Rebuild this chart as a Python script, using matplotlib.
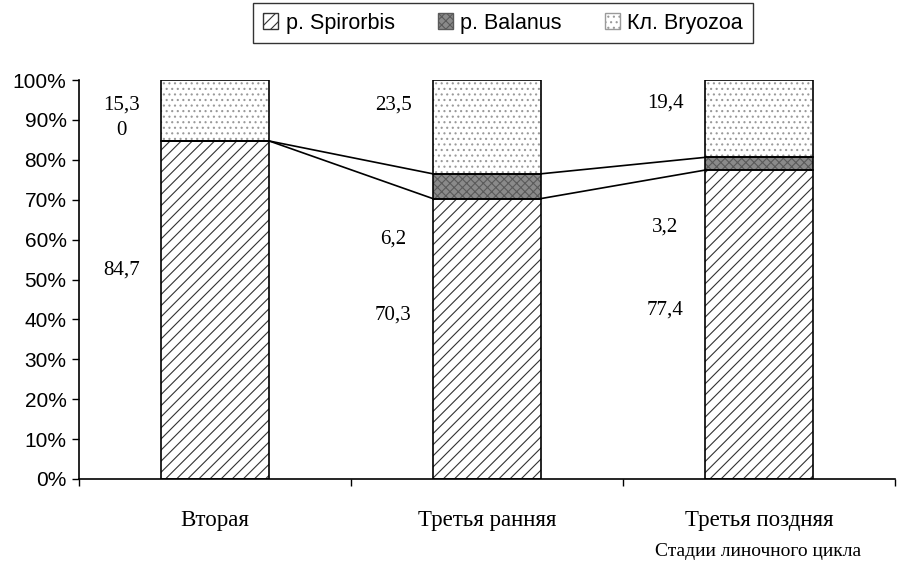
import matplotlib
matplotlib.use("Agg")
import matplotlib.pyplot as plt
import matplotlib.patches as mpatches
import numpy as np

categories = ["Вторая", "Третья ранняя", "Третья поздняя"]
series_names = ["р. Spirorbis", "р. Balanus", "Кл. Bryozoa"]
spirorbis = [84.7, 70.3, 77.4]
balanus = [0.0, 6.2, 3.2]
bryozoa = [15.3, 23.5, 19.4]
value_labels = [["84,7", "70,3", "77,4"], ["0", "6,2", "3,2"], ["15,3", "23,5", "19,4"]]
label_y = [[52.4, 41.1, 42.4], [87.3, 60.2, 63.2], [93.7, 93.7, 94.2]]
yticks = [0, 10, 20, 30, 40, 50, 60, 70, 80, 90, 100]
xlabel = "Стадии линочного цикла"

SANS = "Liberation Sans"
SERIF = "Liberation Serif"

fig = plt.figure(figsize=(8.99, 5.66), dpi=100)
ax = fig.add_axes([79/899, 1-479/566, (895-79)/899, (479-80)/566])

x = np.arange(len(categories))
w = 0.4
series = [spirorbis, balanus, bryozoa]
styles = [
    dict(face="white", hatch="///", hc="#333333"),
    dict(face="#8a8a8a", hatch="xxxx", hc="#5a5a5a"),
    dict(face="white", hatch="...", hc="#9a9a9a"),
]
plt.rcParams["hatch.linewidth"] = 0.8
bottoms = np.zeros(len(categories))
for vals, st in zip(series, styles):
    vals = np.array(vals)
    ax.bar(x, vals, w, bottom=bottoms, color=st["face"], hatch=st["hatch"],
           edgecolor=st["hc"], linewidth=0, zorder=2)
    ax.bar(x, vals, w, bottom=bottoms, fill=False, edgecolor="black",
           linewidth=1.2, zorder=3)
    bottoms = bottoms + vals

# series lines
cum1 = np.array(spirorbis)
cum2 = cum1 + np.array(balanus)
for cum in (cum1, cum2):
    for i in range(len(categories) - 1):
        ax.plot([x[i] + w/2, x[i+1] - w/2], [cum[i], cum[i+1]], color="black",
                lw=1.2, zorder=3)

# value labels
for s in range(3):
    for i in range(len(categories)):
        ax.text(x[i] - 0.345, label_y[s][i], value_labels[s][i], ha="center",
                va="center", fontsize=15, family=SERIF)

ax.set_xlim(-0.5, len(categories) - 0.5)
ax.set_ylim(0, 100)
ax.set_yticks(yticks)
ax.set_yticklabels([f"{t}%" for t in yticks], family=SANS, fontsize=15)
ax.set_xticks(x)
ax.set_xticklabels(categories, family=SERIF, fontsize=16.5)
ax.tick_params(axis="x", length=0, pad=22)
ax.set_xticks(np.arange(-0.5, len(categories)), minor=True)
ax.tick_params(axis="x", which="minor", length=5, width=1, direction="out")
ax.tick_params(axis="y", length=5, width=1, direction="out", pad=4)
for sp in ("top", "right"):
    ax.spines[sp].set_visible(False)
ax.spines["left"].set_linewidth(1.2)
ax.spines["bottom"].set_linewidth(1.2)

fig.text(758/899, 1-552/566, xlabel, ha="center", va="center", fontsize=14, family=SERIF)

handles = [mpatches.Patch(facecolor=st["face"], hatch=st["hatch"], edgecolor=st["hc"])
           for st in styles]
leg = fig.legend(handles, series_names, loc="center", bbox_to_anchor=(503/899, 1-23/566),
                 ncol=3, frameon=True, fancybox=False, edgecolor="black",
                 prop={"family": SANS, "size": 15.5}, handlelength=0.7, handleheight=0.7,
                 handletextpad=0.35, columnspacing=2.0, borderpad=0.45, borderaxespad=0)
leg.get_frame().set_linewidth(1.0)
leg._legend_box.sep = 0

fig.savefig("out.png", dpi=100)
